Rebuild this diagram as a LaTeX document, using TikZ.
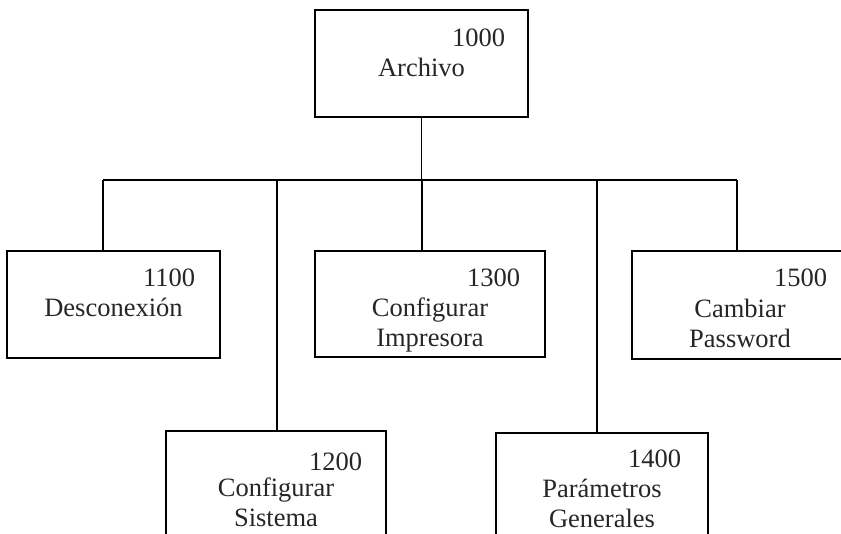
\documentclass[tikz,border=0pt]{standalone}
\usepackage{fontspec}
\setmainfont{Liberation Serif}
\usetikzlibrary{positioning}

\begin{document}
\begin{tikzpicture}[x=1pt, y=1pt,
        box/.style={draw, line width=1.5pt, inner sep=0pt, minimum height=107pt},
        num/.style={anchor=base east, font=\fontsize{26.5}{30}\selectfont, text=black!85},
        lbl/.style={anchor=base, align=center, font=\fontsize{26.5}{30}\selectfont, text=black!85},
        link/.style={line width=1.3pt}]
        \useasboundingbox (0, 0) rectangle (841, -534);
        \clip (0, 0) rectangle (841, -534);

        % Archivo
        \node[box, minimum width=213pt] (archivo) at (421.5, -63.5) {};
        \node[num] (n1000) at ([xshift=-20pt, yshift=-37pt]archivo.north east) {1000};
        \node[lbl] (larchivo) at ([yshift=-67pt]archivo.north) {Archivo};

        % first row
        \node[box, minimum width=213pt] (desc) at (113.5, -304.5) {};
        \node[num] (n1100) at ([xshift=-22pt, yshift=-36pt]desc.north east) {1100};
        \node[lbl] (ldesc) at ([yshift=-66pt]desc.north) {Desconexión};

        \node[box, minimum width=230pt, minimum height=106pt] (impr) at (430, -304) {};
        \node[num] (n1300) at ([xshift=-22pt, yshift=-36pt]impr.north east) {1300};
        \node[lbl] (limpr) at ([yshift=-96pt]impr.north) {Configurar\\Impresora};

        \node[box, minimum width=216pt, minimum height=108pt] (pass) at (740, -305) {};
        \node[num] (n1500) at ([xshift=-18pt, yshift=-36pt]pass.north east) {1500};
        \node[lbl] (lpass) at ([yshift=-97pt]pass.north) {Cambiar\\Password};

        % second row
        \node[box, minimum width=220pt] (sist) at (276, -484.5) {};
        \node[num] (n1200) at ([xshift=-21pt, yshift=-40pt]sist.north east) {1200};
        \node[lbl] (lsist) at ([yshift=-96pt]sist.north) {Configurar\\Sistema};

        \node[box, minimum width=212pt] (param) at (602, -486.5) {};
        \node[num] (n1400) at ([xshift=-24pt, yshift=-35pt]param.north east) {1400};
        \node[lbl] (lparam) at ([yshift=-95pt]param.north) {Parámetros\\Generales};

        % connectors
        \coordinate (bus1) at (103, -180);
        \coordinate (bus2) at (277, -180);
        \coordinate (bus3) at (422, -180);
        \coordinate (bus4) at (597, -180);
        \coordinate (bus5) at (737, -180);
        \draw[link] (archivo.south) -- (archivo.south |- bus3);
        \draw[link] (bus1) -- (bus5);
        \draw[link] (bus1) -- (bus1 |- desc.north);
        \draw[link] (bus2) -- (bus2 |- sist.north);
        \draw[link] (bus3) -- (bus3 |- impr.north);
        \draw[link] (bus4) -- (bus4 |- param.north);
        \draw[link] (bus5) -- (bus5 |- pass.north);
    \end{tikzpicture}
\end{document}
